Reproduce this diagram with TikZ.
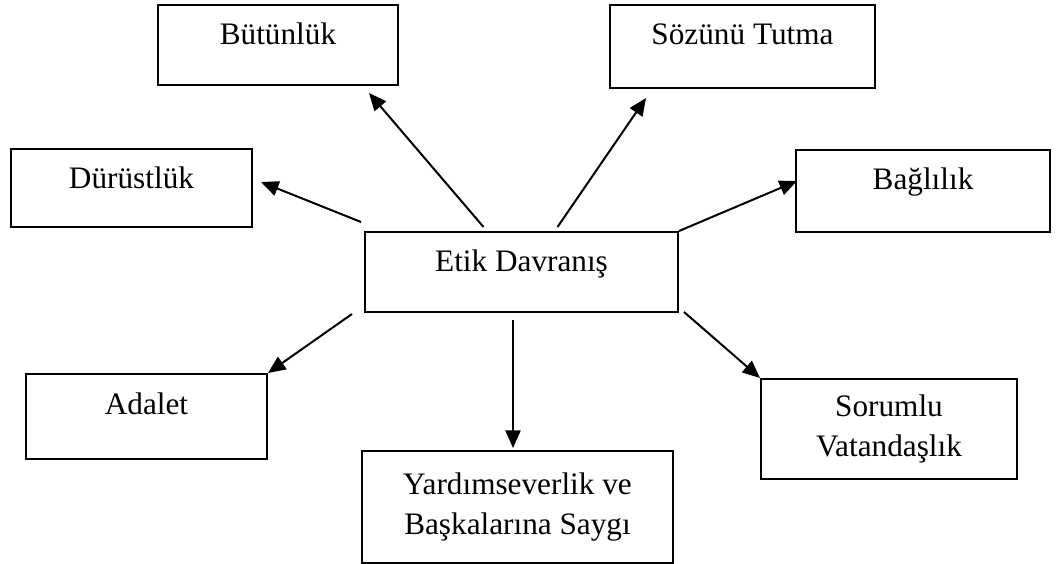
\documentclass[tikz,border=0pt]{standalone}
\usepackage{fontspec}
\setmainfont{Liberation Serif}
\usepackage{tikz}
\usetikzlibrary{arrows.meta}

\tikzset{
    kutu/.style={draw, line width=0.8pt, inner sep=0pt, align=center, font=\fontsize{12.5}{16}\selectfont},
    tek/.style={text height=16pt, text depth=#1},
    ok/.style={-{Triangle[length=7pt, width=6pt]}, line width=0.8pt}
}

\begin{document}
\begin{tikzpicture}[x=0.4pt, y=-0.4pt]
                    \useasboundingbox (0, 0) rectangle (1063, 564);

                    \node[kutu, tek=16pt, minimum width=96pt] (butun) at (278, 45) {Bütünlük};
                    \node[kutu, tek=15.2pt, minimum width=96.4pt] (durust) at (131.5, 188) {Dürüstlük};
                    \node[kutu, tek=17.2pt, minimum width=106pt] (soz) at (742.5, 46.5) {Sözünü Tutma};
                    \node[kutu, tek=16.8pt, minimum width=101.6pt] (bagli) at (923, 191) {Bağlılık};
                    \node[kutu, tek=16pt, minimum width=125.2pt] (etik) at (521.5, 272) {Etik Davranış};
                    \node[kutu, tek=18pt, minimum width=96.4pt] (adalet) at (146.5, 416.5) {Adalet};
                    \node[kutu, minimum width=124.4pt, minimum height=44.8pt] (yardim) at (517.5, 507) {Yardımseverlik ve\\Başkalarına Saygı};
                    \node[kutu, minimum width=102.4pt, minimum height=40pt] (sorumlu) at (889, 429) {Sorumlu\\Vatandaşlık};

                    \coordinate (e1) at ([shift={(-38, -4)}]etik.north);
                    \coordinate (e2) at ([shift={(-3, -9)}]etik.north west);
                    \coordinate (e3) at ([shift={(36, -4)}]etik.north);
                    \coordinate (e4) at (etik.north east);
                    \coordinate (e5) at ([shift={(-12, 1)}]etik.south west);
                    \coordinate (e6) at ([shift={(-8.5, 7)}]etik.south);
                    \coordinate (e7) at ([shift={(5, -1)}]etik.south east);

                    \draw[ok] (e1) -- ([shift={(-30, 7)}]butun.south east);
                    \draw[ok] (e2) -- ([shift={(8, -6)}]durust.east);
                    \draw[ok] (e3) -- ([shift={(37, 9)}]soz.south west);
                    \draw[ok] (e4) -- ([shift={(2, -10)}]bagli.west);
                    \draw[ok] (e5) -- (adalet.north east);
                    \draw[ok] (e6) -- ([shift={(-4.5, -2)}]yardim.north);
                    \draw[ok] (e7) -- (sorumlu.north west);
                \end{tikzpicture}
\end{document}
